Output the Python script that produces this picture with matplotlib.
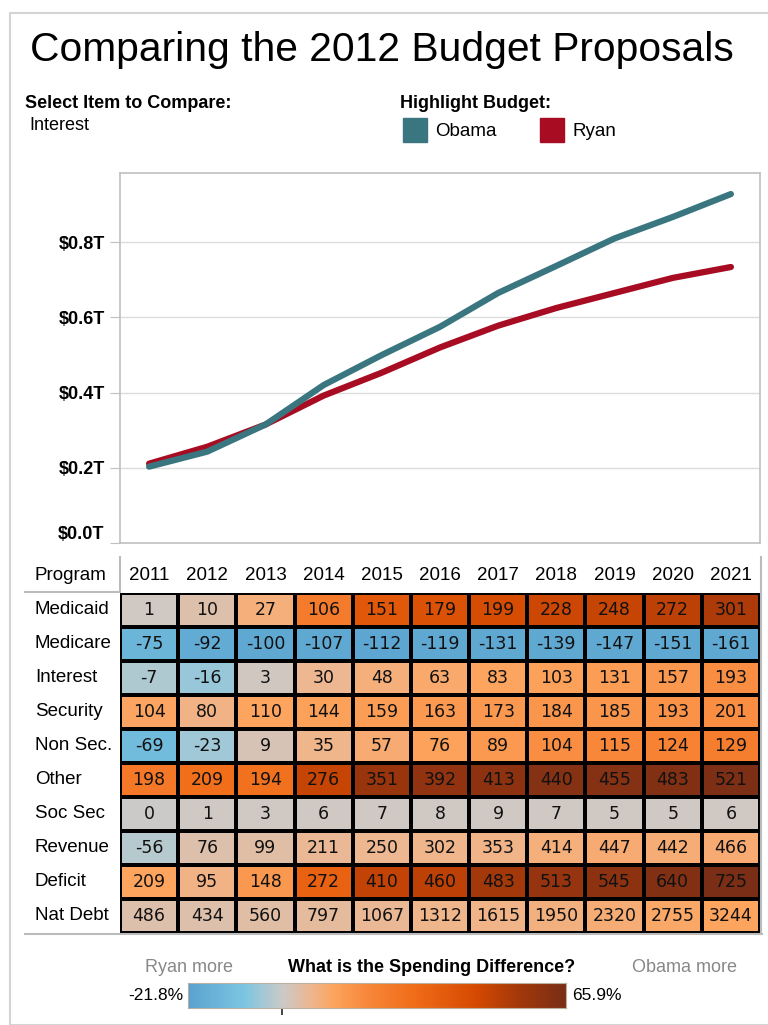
import numpy as np
import matplotlib
matplotlib.use("Agg")
import matplotlib.pyplot as plt
from matplotlib.colors import LinearSegmentedColormap, Normalize
from matplotlib.patches import Rectangle

W, H = 768, 1025
plt.rcParams['font.family'] = ['Liberation Sans', 'DejaVu Sans']

years = [2011, 2012, 2013, 2014, 2015, 2016, 2017, 2018, 2019, 2020, 2021]
obama = [0.203, 0.243, 0.315, 0.42, 0.50, 0.575, 0.665, 0.737, 0.81, 0.867, 0.928]
ryan = [0.211, 0.256, 0.315, 0.392, 0.453, 0.52, 0.578, 0.625, 0.665, 0.705, 0.734]
yticks = [0.0, 0.2, 0.4, 0.6, 0.8]

programs = ["Medicaid", "Medicare", "Interest", "Security", "Non Sec.",
            "Other", "Soc Sec", "Revenue", "Deficit", "Nat Debt"]
diffs = [
    [1, 10, 27, 106, 151, 179, 199, 228, 248, 272, 301],
    [-75, -92, -100, -107, -112, -119, -131, -139, -147, -151, -161],
    [-7, -16, 3, 30, 48, 63, 83, 103, 131, 157, 193],
    [104, 80, 110, 144, 159, 163, 173, 184, 185, 193, 201],
    [-69, -23, 9, 35, 57, 76, 89, 104, 115, 124, 129],
    [198, 209, 194, 276, 351, 392, 413, 440, 455, 483, 521],
    [0, 1, 3, 6, 7, 8, 9, 7, 5, 5, 6],
    [-56, 76, 99, 211, 250, 302, 353, 414, 447, 442, 466],
    [209, 95, 148, 272, 410, 460, 483, 513, 545, 640, 725],
    [486, 434, 560, 797, 1067, 1312, 1615, 1950, 2320, 2755, 3244],
]
# estimated % difference behind each cell's colour
pct = [
    [0.5, 3.5, 9, 25, 39, 42, 44, 47, 48, 50, 53],
    [-15, -19, -20, -20, -20.5, -20, -20, -20, -20, -20, -20],
    [-3, -6, 1, 6.5, 9, 10.5, 12, 13, 14, 15.5, 18],
    [11.5, 8, 12, 13, 14, 15, 15.5, 16, 16, 17, 18],
    [-13, -5, 2.5, 7, 10, 12.5, 15, 18, 20, 22, 24],
    [26, 30, 29, 48, 58, 60, 61, 63, 63, 64, 65],
    [0, 0.5, 0.5, 0.7, 0.7, 0.7, 0.7, 0.7, 0.5, 0.5, 0.6],
    [-2.5, 3.5, 4, 6, 6.5, 7, 7.5, 9, 10, 9.5, 10],
    [12, 8, 15.5, 35, 49, 50, 55, 59, 61, 64, 65.9],
    [3.5, 3.5, 4, 5, 6, 7, 7.5, 8.5, 9.5, 11, 12],
]
pct_min, pct_max = -21.8, 65.9

stops = [(-21.8, '#5aa3d0'), (-9, '#7cc6e2'), (0, '#cccac8'), (7, '#efb58c'),
         (12, '#fda45e'), (20, '#f8873a'), (31, '#f06c18'), (45, '#d64a02'),
         (55, '#a4380a'), (65.9, '#7a2e16')]
cmap = LinearSegmentedColormap.from_list(
    "ob", [((p - pct_min) / (pct_max - pct_min), c) for p, c in stops])
norm = Normalize(pct_min, pct_max)


def px_axes(x0, y0, x1, y1):
    return fig.add_axes([x0 / W, 1 - y1 / H, (x1 - x0) / W, (y1 - y0) / H])


def ftext(x, y, s, **kw):
    return fig.text(x / W, 1 - y / H, s, **kw)


fig = plt.figure(figsize=(W / 100, H / 100), dpi=100)
fig.patches.append(Rectangle((10 / W, 0), 1, 1 - 13 / H, transform=fig.transFigure,
                             facecolor='white', edgecolor='#d4d4d4', lw=1.5, zorder=-10))

ftext(30, 50, "Comparing the 2012 Budget Proposals", fontsize=29.3, va='center')
ftext(25, 103, "Select Item to Compare:", fontsize=13, fontweight='bold', va='center')
ftext(29, 125, "Interest", fontsize=13, va='center')
ftext(400, 103, "Highlight Budget:", fontsize=13, fontweight='bold', va='center')
for xs, name, col in [(403, "Obama", '#3a7680'), (540, "Ryan", '#a80c22')]:
    fig.patches.append(Rectangle((xs / W, 1 - 142 / H), 24 / W, 24 / H,
                                 transform=fig.transFigure, color=col))
    ftext(xs + 32, 131, name, fontsize=13.5, va='center')

# line chart
ax = px_axes(120, 173, 760, 543)
x = np.arange(len(years))
ax.plot(x, ryan, color='#a80c22', lw=4.5, solid_capstyle='round', zorder=3)
ax.plot(x, obama, color='#3a7680', lw=4.5, solid_capstyle='round', zorder=4)
ax.set_xlim(-0.5, len(years) - 0.5)
ax.set_ylim(0, 0.984)
ax.set_xticks([])
ax.set_yticks(yticks)
ax.set_yticklabels([f"${v:.1f}T" for v in yticks], fontsize=13, fontweight='bold')
ax.get_yticklabels()[0].set_va('bottom')
ax.tick_params(axis='y', length=7, color='#c0c0c0', pad=4)
ax.grid(axis='y', color='#dddddd', lw=1)
for s in ax.spines.values():
    s.set_color('#c0c0c0')
    s.set_linewidth(1.2)

# table
tx = px_axes(120, 593, 760, 933)
tx.pcolormesh(np.arange(len(years) + 1), np.arange(len(programs) + 1), np.array(pct),
              cmap=cmap, norm=norm, edgecolors='black', linewidth=1.6)
tx.set_xlim(0, len(years))
tx.set_ylim(len(programs), 0)
tx.axis('off')
for i, row in enumerate(diffs):
    for j, v in enumerate(row):
        tx.text(j + 0.5, i + 0.5, str(v), ha='center', va='center', fontsize=12.5,
                family='DejaVu Sans', color='#111111')
    tx.text(-85 / 640 * len(years), i + 0.5, programs[i], ha='left', va='center',
            fontsize=13.5)
for j, yr in enumerate(years):
    tx.text(j + 0.5, -0.5, str(yr), ha='center', va='center', fontsize=13.5)
tx.text(-85 / 640 * len(years), -0.5, "Program", ha='left', va='center', fontsize=13.5)

fig.add_artist(plt.Line2D([25 / W, 120 / W], [1 - 592 / H] * 2, color='#bbbbbb', lw=1.5))
fig.add_artist(plt.Line2D([120 / W] * 2, [1 - 557 / H, 1 - 592 / H], color='#bbbbbb', lw=1.5))
fig.add_artist(plt.Line2D([25 / W, 762 / W], [1 - 934 / H] * 2, color='#bbbbbb', lw=1.5))
fig.add_artist(plt.Line2D([761 / W] * 2, [1 - 557 / H, 1 - 934 / H], color='#bbbbbb', lw=1.5))

# colour legend
cx = px_axes(188, 983, 566, 1008)
cx.imshow(np.linspace(pct_min, pct_max, 400)[None, :], aspect='auto', cmap=cmap, norm=norm,
          extent=[pct_min, pct_max, 0, 1])
cx.set_yticks([])
cx.set_xticks([0])
cx.set_xticklabels([])
cx.tick_params(axis='x', length=5, width=1.2, color='#222222')
for s in cx.spines.values():
    s.set_color('#b8b0a0')
ftext(145, 968, "Ryan more", fontsize=13, color='#888888', va='center')
ftext(432, 968, "What is the Spending Difference?", fontsize=13, fontweight='bold',
      ha='center', va='center')
ftext(737, 968, "Obama more", fontsize=13, color='#888888', va='center', ha='right')
ftext(183, 996, f"{pct_min}%", fontsize=12.5, va='center', ha='right')
ftext(572, 996, f"{pct_max}%", fontsize=12.5, va='center', ha='left')

fig.savefig("out.png", dpi=100)
